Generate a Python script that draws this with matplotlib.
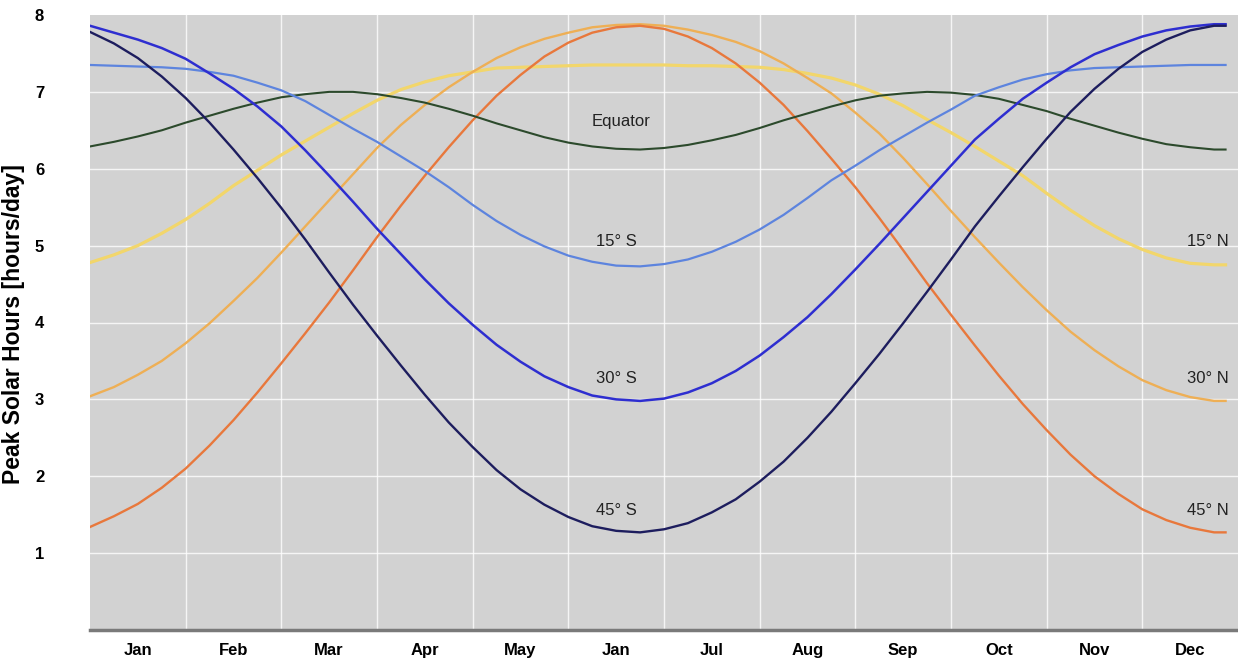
import matplotlib
matplotlib.use("Agg")
import matplotlib.pyplot as plt

# month position along the axis (0 = start of the first month), quarter-month steps
months_x = [0, 0.25, 0.5, 0.75, 1, 1.25, 1.5, 1.75, 2, 2.25, 2.5, 2.75,
            3, 3.25, 3.5, 3.75, 4, 4.25, 4.5, 4.75, 5, 5.25, 5.5, 5.75,
            6, 6.25, 6.5, 6.75, 7, 7.25, 7.5, 7.75, 8, 8.25, 8.5, 8.75,
            9, 9.25, 9.5, 9.75, 10, 10.25, 10.5, 10.75, 11, 11.25, 11.5, 11.75, 11.87]

n45 = [1.34, 1.48, 1.64, 1.85, 2.10, 2.40, 2.73, 3.09, 3.47, 3.86, 4.26, 4.68,
       5.11, 5.52, 5.91, 6.28, 6.63, 6.95, 7.22, 7.46, 7.64, 7.77, 7.84, 7.86,
       7.82, 7.72, 7.57, 7.37, 7.12, 6.83, 6.49, 6.13, 5.76, 5.36, 4.94, 4.51,
       4.10, 3.70, 3.31, 2.94, 2.60, 2.28, 2.00, 1.77, 1.57, 1.43, 1.33, 1.27, 1.27]
n30 = [3.04, 3.16, 3.32, 3.50, 3.73, 3.99, 4.28, 4.58, 4.91, 5.25, 5.59, 5.93,
       6.27, 6.57, 6.83, 7.06, 7.26, 7.44, 7.58, 7.69, 7.77, 7.84, 7.87, 7.88,
       7.86, 7.81, 7.74, 7.65, 7.53, 7.37, 7.18, 6.98, 6.73, 6.46, 6.14, 5.80,
       5.45, 5.11, 4.78, 4.46, 4.16, 3.88, 3.64, 3.43, 3.25, 3.12, 3.03, 2.98, 2.98]
n15 = [4.78, 4.88, 5.00, 5.16, 5.34, 5.55, 5.78, 5.98, 6.18, 6.36, 6.54, 6.72,
       6.89, 7.03, 7.13, 7.21, 7.26, 7.31, 7.32, 7.33, 7.34, 7.35, 7.35, 7.35,
       7.35, 7.34, 7.34, 7.33, 7.32, 7.29, 7.24, 7.18, 7.09, 6.97, 6.82, 6.64,
       6.47, 6.29, 6.10, 5.91, 5.68, 5.46, 5.26, 5.09, 4.95, 4.84, 4.77, 4.75, 4.75]
equator = [6.29, 6.35, 6.42, 6.50, 6.60, 6.69, 6.78, 6.86, 6.93, 6.97, 7.00, 7.00,
           6.97, 6.92, 6.86, 6.78, 6.69, 6.59, 6.50, 6.41, 6.34, 6.29, 6.26, 6.25,
           6.27, 6.31, 6.37, 6.44, 6.53, 6.63, 6.72, 6.81, 6.89, 6.95, 6.98, 7.00,
           6.99, 6.96, 6.91, 6.83, 6.75, 6.65, 6.56, 6.47, 6.39, 6.32, 6.28, 6.25, 6.25]
s15 = [7.35, 7.34, 7.33, 7.32, 7.30, 7.26, 7.21, 7.12, 7.02, 6.88, 6.70, 6.52,
       6.35, 6.16, 5.97, 5.76, 5.53, 5.32, 5.14, 4.99, 4.87, 4.79, 4.74, 4.73,
       4.76, 4.82, 4.92, 5.05, 5.21, 5.40, 5.62, 5.85, 6.04, 6.24, 6.42, 6.60,
       6.77, 6.95, 7.06, 7.16, 7.23, 7.28, 7.31, 7.32, 7.33, 7.34, 7.35, 7.35, 7.35]
s30 = [7.86, 7.77, 7.68, 7.57, 7.43, 7.24, 7.04, 6.81, 6.55, 6.24, 5.91, 5.57,
       5.22, 4.89, 4.56, 4.25, 3.97, 3.71, 3.49, 3.30, 3.16, 3.05, 3.00, 2.98,
       3.01, 3.09, 3.21, 3.37, 3.57, 3.81, 4.07, 4.37, 4.69, 5.02, 5.36, 5.70,
       6.04, 6.38, 6.65, 6.91, 7.12, 7.32, 7.49, 7.61, 7.72, 7.80, 7.85, 7.88, 7.88]
s45 = [7.78, 7.63, 7.44, 7.20, 6.92, 6.60, 6.25, 5.88, 5.49, 5.08, 4.65, 4.23,
       3.83, 3.44, 3.06, 2.70, 2.38, 2.08, 1.83, 1.63, 1.47, 1.35, 1.29, 1.27,
       1.31, 1.39, 1.53, 1.70, 1.93, 2.19, 2.50, 2.84, 3.21, 3.59, 3.99, 4.40,
       4.82, 5.25, 5.64, 6.02, 6.39, 6.74, 7.04, 7.30, 7.52, 7.68, 7.80, 7.86, 7.86]

month_labels = ["Jan", "Feb", "Mar", "Apr", "May", "Jan", "Jul", "Aug", "Sep",
                "Oct", "Nov", "Dec"]

series = [
    (n15, "#f2d66b", 2.3),
    (n30, "#eeaf55", 1.7),
    (n45, "#e8783c", 1.7),
    (equator, "#2c4a2c", 1.5),
    (s15, "#5d84de", 1.6),
    (s30, "#2e2ed0", 1.8),
    (s45, "#1d1d5e", 1.7),
]

plt.rcParams['font.family'] = ['Liberation Sans', 'DejaVu Sans']

fig = plt.figure(figsize=(12.38, 6.61), dpi=100)
ax = fig.add_axes([90 / 1238, 31 / 661, 1148 / 1238, 615 / 661])
ax.set_facecolor("#d2d2d2")

for vals, col, lw in series:
    ax.plot(months_x, vals, color=col, lw=lw, solid_joinstyle="round")

ax.set_xlim(0, 12)
ax.set_ylim(0, 8)

# white grid at month boundaries and whole hours
for gx in range(1, 12):
    ax.axvline(gx, color="white", lw=1.0, alpha=0.8, zorder=0.5)
for gy in range(1, 8):
    ax.axhline(gy, color="white", lw=1.0, alpha=0.8, zorder=0.5)

ax.set_xticks([m + 0.5 for m in range(12)])
ax.set_xticklabels(month_labels, fontweight="bold", fontsize=12)
for t in ax.get_xticklabels():
    t.set_verticalalignment("baseline")
ax.set_yticks(range(1, 9))
ax.set_yticklabels([str(v) for v in range(1, 9)], fontweight="bold", fontsize=12)
ax.tick_params(axis="x", length=0, pad=18)
ax.tick_params(axis="y", length=0, pad=33)

for side in ["left", "right", "top"]:
    ax.spines[side].set_visible(False)
ax.spines["bottom"].set_color("#7a7a7a")
ax.spines["bottom"].set_linewidth(2.5)

fig.text(14 / 1238, 0.51, "Peak Solar Hours [hours/day]", rotation=90,
         ha="center", va="center", fontweight="bold", fontsize=16.5)

lbl = dict(fontsize=12, color="#222222")
ax.text(5.55, 6.62, "Equator", ha="center", va="center", **lbl)
ax.text(5.5, 5.05, "15° S", ha="center", va="center", **lbl)
ax.text(5.5, 3.27, "30° S", ha="center", va="center", **lbl)
ax.text(5.5, 1.55, "45° S", ha="center", va="center", **lbl)
ax.text(11.9, 5.05, "15° N", ha="right", va="center", **lbl)
ax.text(11.9, 3.27, "30° N", ha="right", va="center", **lbl)
ax.text(11.9, 1.55, "45° N", ha="right", va="center", **lbl)

fig.savefig("out.png", dpi=100)
